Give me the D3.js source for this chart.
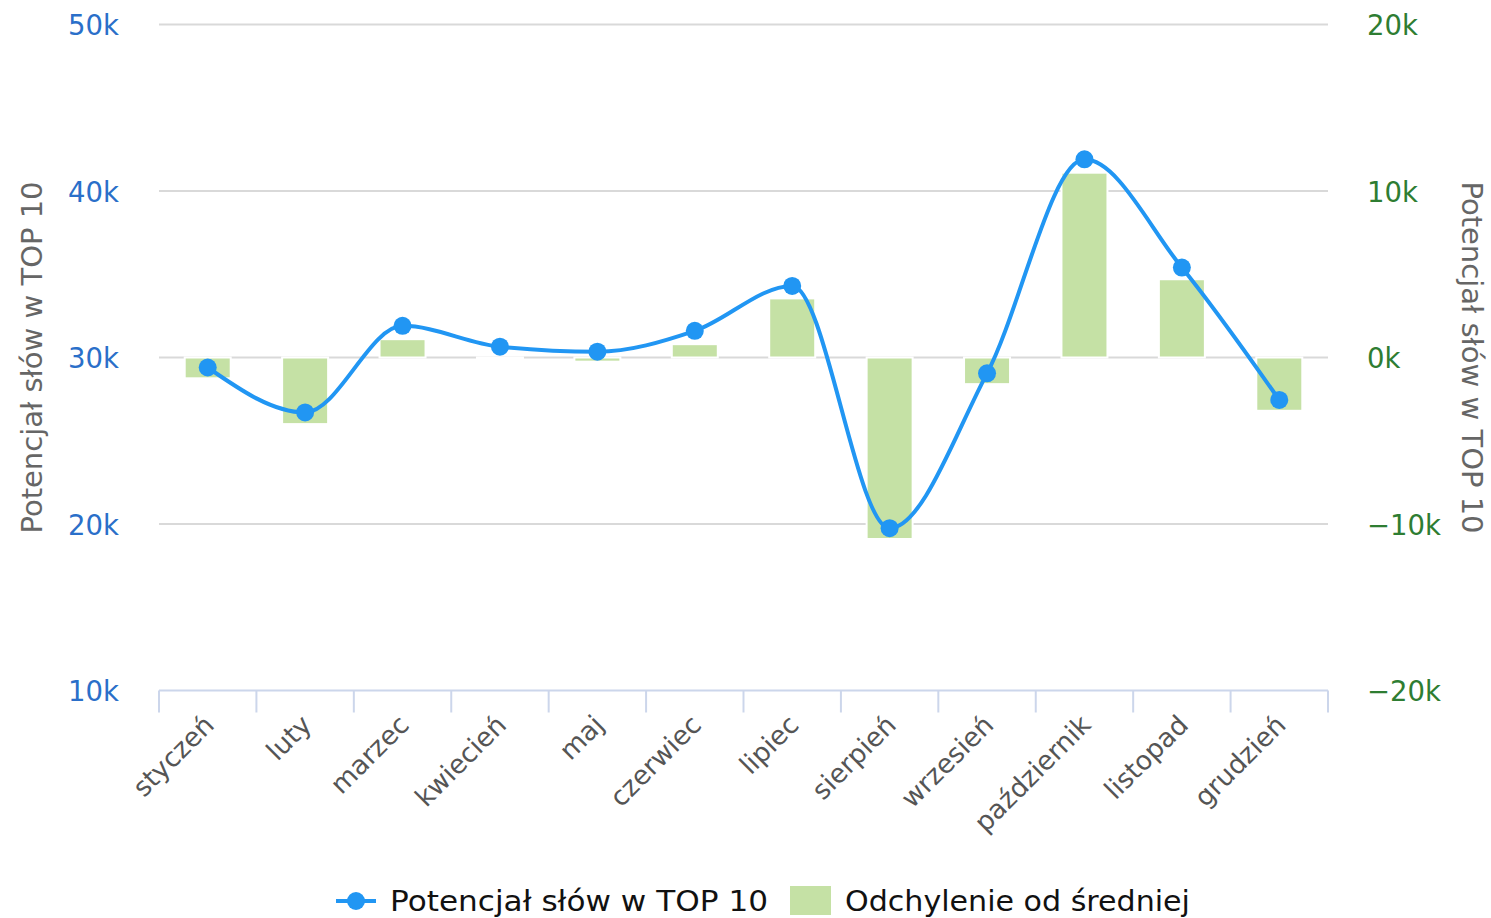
<!DOCTYPE html>
<html>
<head>
<meta charset="utf-8">
<script src="https://cdn.jsdelivr.net/npm/d3@7"></script>
<style>
  body { margin: 0; background: #fff; }
  svg { display: block; font-family: "DejaVu Sans", sans-serif; }
</style>
</head>
<body>
<svg id="chart" width="1491" height="918"></svg>
<script>
// months
const months = ["styczeń", "luty", "marzec", "kwiecień", "maj", "czerwiec",
  "lipiec", "sierpień", "wrzesień", "październik", "listopad", "grudzień"];
// Potencjał słów w TOP 10 (left axis)
const potencjal = [29400, 26700, 31900, 30650, 30350, 31600, 34300, 19750, 29050, 41900, 35400, 27450];
// Odchylenie od średniej (right axis)
const odchylenie = [-1250, -4000, 1100, -50, -250, 800, 3550, -10900, -1600, 11100, 4700, -3200];
const leftTicks = [10000, 20000, 30000, 40000, 50000];
const rightTicks = [-20000, -10000, 0, 10000, 20000];

const svg = d3.select("#chart");
const pLeft = 159, pRight = 1328, pTop = 24.5, pBottom = 690.5;

const x = d3.scaleBand().domain(months).range([pLeft, pRight]);
const yL = d3.scaleLinear().domain([10000, 50000]).range([pBottom, pTop]);
const yR = d3.scaleLinear().domain([-20000, 20000]).range([pBottom, pTop]);
const fmt = d => (d / 1000) + "k";
const fmtR = d => (d < 0 ? "\u2212" + (-d / 1000) : d / 1000) + "k";

// grid
svg.append("g")
  .selectAll("line")
  .data(leftTicks.slice(1))
  .join("line")
  .attr("x1", pLeft).attr("x2", pRight)
  .attr("y1", d => yL(d)).attr("y2", d => yL(d))
  .attr("stroke", "#d9d9d9").attr("stroke-width", 2);

// left axis labels
svg.append("g")
  .selectAll("text")
  .data(leftTicks)
  .join("text")
  .attr("x", 119).attr("y", d => yL(d) + 1)
  .attr("dy", "0.35em")
  .attr("text-anchor", "end")
  .attr("font-size", 27.5)
  .attr("fill", "#2a6fc9")
  .text(fmt);

// right axis labels
svg.append("g")
  .selectAll("text")
  .data(rightTicks)
  .join("text")
  .attr("x", 1367).attr("y", d => yR(d) + 1)
  .attr("dy", "0.35em")
  .attr("text-anchor", "start")
  .attr("font-size", 27.5)
  .attr("fill", "#2e7d32")
  .text(fmtR);

// axis titles
svg.append("text")
  .attr("transform", `translate(42,${(pTop + pBottom) / 2}) rotate(-90)`)
  .attr("text-anchor", "middle")
  .attr("font-size", 29)
  .attr("fill", "#666")
  .text("Potencjał słów w TOP 10");
svg.append("text")
  .attr("transform", `translate(1462,${(pTop + pBottom) / 2}) rotate(90)`)
  .attr("text-anchor", "middle")
  .attr("font-size", 29)
  .attr("fill", "#666")
  .text("Potencjał słów w TOP 10");

// bars
const bw = 46;
svg.append("g")
  .selectAll("rect")
  .data(odchylenie)
  .join("rect")
  .attr("x", (d, i) => x(months[i]) + x.bandwidth() / 2 - bw / 2)
  .attr("y", d => yR(Math.max(0, d)))
  .attr("width", bw)
  .attr("height", d => Math.abs(yR(d) - yR(0)))
  .attr("fill", "#c5e1a5")
  .attr("stroke", "#fff")
  .attr("stroke-width", 2);

// x axis
const xa = svg.append("g");
xa.append("line")
  .attr("x1", pLeft).attr("x2", pRight)
  .attr("y1", pBottom).attr("y2", pBottom)
  .attr("stroke", "#ccd6eb").attr("stroke-width", 2);
xa.selectAll("line.tick")
  .data(months.map(m => x(m)).concat([pRight]))
  .join("line")
  .attr("class", "tick")
  .attr("x1", d => d).attr("x2", d => d)
  .attr("y1", pBottom).attr("y2", pBottom + 22)
  .attr("stroke", "#ccd6eb").attr("stroke-width", 2);
xa.selectAll("text")
  .data(months)
  .join("text")
  .attr("transform", d => `translate(${x(d) + x.bandwidth() / 2 + 8},${pBottom + 36}) rotate(-45)`)
  .attr("text-anchor", "end")
  .attr("font-size", 26.5)
  .attr("fill", "#555")
  .text(d => d);

// line
const line = d3.line()
  .x((d, i) => x(months[i]) + x.bandwidth() / 2)
  .y(d => yL(d))
  .curve(d3.curveMonotoneX);
svg.append("path")
  .datum(potencjal)
  .attr("d", line)
  .attr("fill", "none")
  .attr("stroke", "#2196f3")
  .attr("stroke-width", 4);
svg.append("g")
  .selectAll("circle")
  .data(potencjal)
  .join("circle")
  .attr("cx", (d, i) => x(months[i]) + x.bandwidth() / 2)
  .attr("cy", d => yL(d))
  .attr("r", 9)
  .attr("fill", "#2196f3");

// legend
const lg = svg.append("g").attr("transform", "translate(0,901)");
lg.append("line").attr("x1", 336).attr("x2", 376).attr("y1", 0).attr("y2", 0)
  .attr("stroke", "#2196f3").attr("stroke-width", 4);
lg.append("circle").attr("cx", 356).attr("cy", 0).attr("r", 9).attr("fill", "#2196f3");
lg.append("text").attr("x", 390).attr("y", 0).attr("dy", "0.36em")
  .attr("font-size", 28).attr("fill", "#111")
  .attr("textLength", 378).attr("lengthAdjust", "spacingAndGlyphs")
  .text("Potencjał słów w TOP 10");
lg.append("rect").attr("x", 790).attr("y", -15).attr("width", 41).attr("height", 29)
  .attr("fill", "#c5e1a5");
lg.append("text").attr("x", 845).attr("y", 0).attr("dy", "0.36em")
  .attr("font-size", 28).attr("fill", "#111")
  .attr("textLength", 345).attr("lengthAdjust", "spacingAndGlyphs")
  .text("Odchylenie od średniej");
</script>
</body>
</html>
